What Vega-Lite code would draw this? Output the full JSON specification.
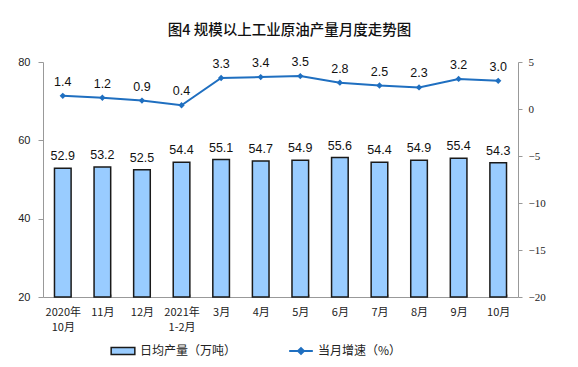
{
  "$schema": "https://vega.github.io/schema/vega-lite/v6.json",
  "width": 475,
  "height": 235,
  "autosize": {"type": "none"},
  "padding": {"left": 43, "top": 62, "right": 60, "bottom": 70},
  "background": "white",
  "title": {
    "text": "图4  规模以上工业原油产量月度走势图",
    "font": "Noto Sans CJK SC",
    "fontSize": 14.5,
    "fontWeight": 500,
    "color": "#111",
    "anchor": "middle",
    "dx": 9,
    "offset": 18
  },
  "data": {
    "values": [
      {"month": "2020年|10月", "output": 52.9, "growth": 1.4, "bl": "日均产量（万吨）", "ll": "当月增速（%）"},
      {"month": "11月", "output": 53.2, "growth": 1.2, "bl": "日均产量（万吨）", "ll": "当月增速（%）"},
      {"month": "12月", "output": 52.5, "growth": 0.9, "bl": "日均产量（万吨）", "ll": "当月增速（%）"},
      {"month": "2021年|1-2月", "output": 54.4, "growth": 0.4, "bl": "日均产量（万吨）", "ll": "当月增速（%）"},
      {"month": "3月", "output": 55.1, "growth": 3.3, "bl": "日均产量（万吨）", "ll": "当月增速（%）"},
      {"month": "4月", "output": 54.7, "growth": 3.4, "bl": "日均产量（万吨）", "ll": "当月增速（%）"},
      {"month": "5月", "output": 54.9, "growth": 3.5, "bl": "日均产量（万吨）", "ll": "当月增速（%）"},
      {"month": "6月", "output": 55.6, "growth": 2.8, "bl": "日均产量（万吨）", "ll": "当月增速（%）"},
      {"month": "7月", "output": 54.4, "growth": 2.5, "bl": "日均产量（万吨）", "ll": "当月增速（%）"},
      {"month": "8月", "output": 54.9, "growth": 2.3, "bl": "日均产量（万吨）", "ll": "当月增速（%）"},
      {"month": "9月", "output": 55.4, "growth": 3.2, "bl": "日均产量（万吨）", "ll": "当月增速（%）"},
      {"month": "10月", "output": 54.3, "growth": 3.0, "bl": "日均产量（万吨）", "ll": "当月增速（%）"}
    ]
  },
  "encoding": {
    "x": {
      "field": "month",
      "type": "nominal",
      "sort": null,
      "scale": {"paddingInner": 0.58, "paddingOuter": 0.29},
      "axis": {
        "title": null,
        "labelAngle": 0,
        "labelExpr": "split(datum.label, '|')",
        "labelFont": "Noto Sans CJK SC",
        "labelFontSize": 11,
        "labelColor": "#222",
        "labelLineHeight": 15,
        "labelPadding": 12,
        "domainColor": "#999",
        "tickColor": "#bbb",
        "tickSize": -3,
        "tickBand": "extent",
        "ticks": true,
        "grid": false
      }
    }
  },
  "layer": [
    {
      "layer": [
        {
          "mark": {"type": "bar", "stroke": "#1a1a1a", "strokeWidth": 1.5},
          "encoding": {
            "y": {
              "field": "output",
              "type": "quantitative",
              "scale": {"domain": [20, 80], "zero": false, "nice": false},
              "axis": {
                "title": null,
                "values": [20, 40, 60, 80],
                "grid": false,
                "labelFont": "Liberation Sans",
                "labelFontSize": 11,
                "labelColor": "#222",
                "domainColor": "#999",
                "tickColor": "#999",
                "tickSize": 5,
                "labelPadding": 8
              }
            },
            "y2": {"datum": 20},
            "fill": {
              "field": "bl",
              "type": "nominal",
              "scale": {"range": ["#99CCFF"]},
              "legend": {
                "title": null,
                "orient": "none",
                "legendX": 67,
                "legendY": 276,
                "symbolType": "M-1,-0.3H1V0.3H-1Z",
                "symbolSize": 560,
                "symbolStrokeColor": "#1a1a1a",
                "symbolStrokeWidth": 1.5,
                "labelFont": "Noto Sans CJK SC",
                "labelFontSize": 12,
                "labelColor": "#222",
                "labelOffset": 4
              }
            }
          }
        },
        {
          "mark": {"type": "text", "baseline": "bottom", "dy": -5, "font": "Liberation Sans", "fontSize": 12.5, "color": "#111"},
          "encoding": {
            "y": {"field": "output", "type": "quantitative"},
            "text": {"field": "output", "type": "quantitative", "format": ".1f"}
          }
        }
      ]
    },
    {
      "layer": [
        {
          "mark": {"type": "line", "strokeWidth": 2},
          "encoding": {
            "y": {
              "field": "growth",
              "type": "quantitative",
              "scale": {"domain": [-20, 5], "nice": false},
              "axis": {
                "orient": "right",
                "title": null,
                "values": [-20, -15, -10, -5, 0, 5],
                "grid": false,
                "labelFont": "Liberation Serif",
                "labelFontSize": 11,
                "labelColor": "#222",
                "domainColor": "#999",
                "tickColor": "#999",
                "tickSize": 4,
                "labelPadding": 6
              }
            },
            "stroke": {
              "field": "ll",
              "type": "nominal",
              "scale": {"range": ["#1F6FC0"]},
              "legend": {
                "title": null,
                "orient": "none",
                "legendX": 245,
                "legendY": 276,
                "symbolType": "M-1,0H1M-0.25,0L0,-0.25L0.25,0L0,0.25Z",
                "symbolSize": 560,
                "symbolFillColor": "#1F6FC0",
                "symbolStrokeWidth": 2,
                "labelFont": "Noto Sans CJK SC",
                "labelFontSize": 12,
                "labelColor": "#222",
                "labelOffset": 4
              }
            }
          }
        },
        {
          "mark": {"type": "point", "shape": "diamond", "filled": true, "size": 40, "color": "#1F6FC0", "opacity": 1},
          "encoding": {
            "y": {"field": "growth", "type": "quantitative"}
          }
        },
        {
          "mark": {"type": "text", "baseline": "bottom", "dy": -7, "font": "Liberation Sans", "fontSize": 12.5, "color": "#111"},
          "encoding": {
            "y": {"field": "growth", "type": "quantitative"},
            "text": {"field": "growth", "type": "quantitative", "format": ".1f"}
          }
        }
      ]
    }
  ],
  "resolve": {"scale": {"y": "independent"}},
  "config": {"view": {"stroke": null}}
}
